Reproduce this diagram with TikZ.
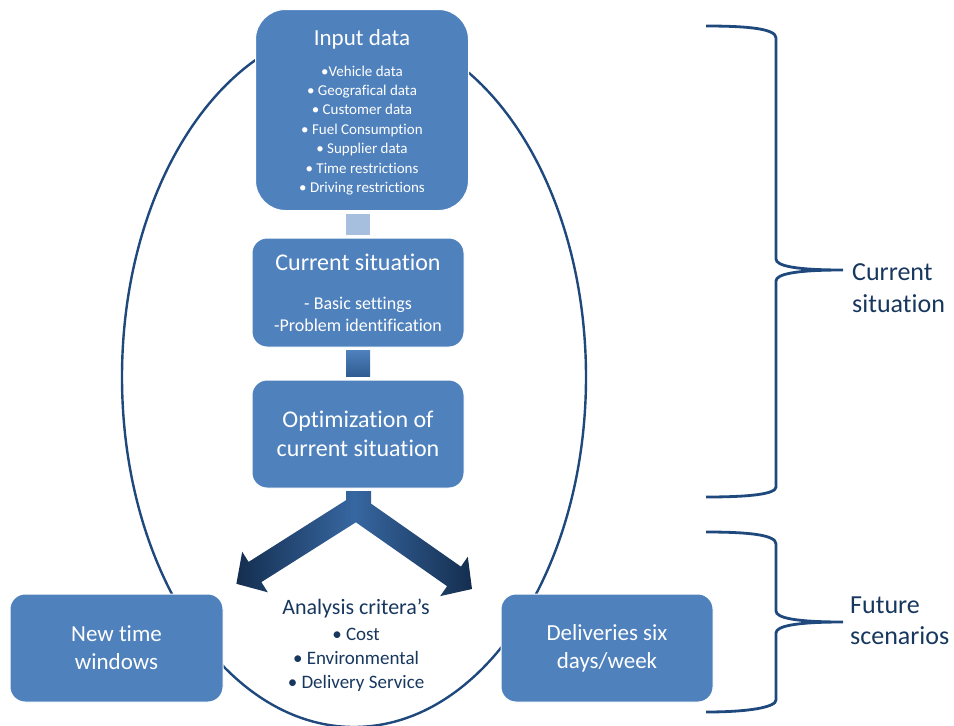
\documentclass[tikz,border=0pt]{standalone}
\usepackage{fontspec}
\setmainfont{Carlito}[RawFeature=-liga]
\usepackage{tikz}
\usetikzlibrary{calc}
\definecolor{BoxBlue}{HTML}{4F81BD}
\definecolor{RingBlue}{HTML}{1F497D}
\definecolor{TextNavy}{HTML}{17375E}
\definecolor{LinkPale}{HTML}{A7BFDE}
\definecolor{StemDark}{HTML}{2F5B91}
\definecolor{ArrowDark}{HTML}{142E4F}
\definecolor{ArrowMid}{HTML}{3767A1}
\begin{document}
\begin{tikzpicture}[x=1pt,y=-1pt]
\tikzset{stage/.style={fill=BoxBlue,draw=white,line width=1pt,rounded corners=15pt,text=white,align=center,minimum width=212pt,minimum height=108pt,inner sep=2pt,font=\fontsize{24}{29}\selectfont},
ring/.style={RingBlue,line width=2.4pt},brace/.style={RingBlue,line width=2.8pt},
link/.style={LinkPale,line width=24pt,shorten <=3pt,shorten >=3pt},
crit/.style={text=TextNavy,align=center,inner sep=0pt,font=\fontsize{19}{24}\selectfont},
side/.style={text=TextNavy,align=left,anchor=west,inner sep=0pt}}
\useasboundingbox (0,0) rectangle (954,726);
\draw[ring] (354,377) ellipse [x radius=232,y radius=350];
% right braces
\draw[brace] (706,26) .. controls (750,26) and (776,29) .. (776,38) -- (776,259) .. controls (776,266) and (796,270) .. (843,270) .. controls (796,270) and (776,274) .. (776,281) -- (776,487) .. controls (776,494) and (750,497) .. (706,497);
\draw[brace] (706,532) .. controls (750,532) and (776,535) .. (776,544) -- (776,611) .. controls (776,618) and (796,622) .. (843,622) .. controls (796,622) and (776,626) .. (776,633) -- (776,700) .. controls (776,707) and (750,712) .. (706,712);
\node[side,font=\fontsize{26}{32}\selectfont] (curlab) at (852,288) {Current\\situation};
\node[side,font=\fontsize{26}{31}\selectfont] (futlab) at (850,621) {Future\\scenarios};
% stages
\node[stage,rounded corners=30pt,minimum width=213pt,minimum height=201pt,font=\fontsize{15}{19.4}\selectfont] (input) at (362,110) {{\fontsize{23}{23}\selectfont\rule{0pt}{20pt}Input data}\\[11.6pt] •Vehicle data\\ • Geografical data\\ • Customer data\\ • Fuel Consumption\\ • Supplier data\\ • Time restrictions\\ • Driving restrictions};
\node[stage,minimum height=109pt,font=\fontsize{18}{22}\selectfont] (cur) at (358,292.5) {{\fontsize{24}{24}\selectfont Current situation}\\[17pt] - Basic settings\\ -Problem identification};
\node[stage] (opt) at (358,434) {Optimization of\\current situation};
\node[stage,minimum width=213pt,font=\fontsize{23}{28}\selectfont] (ntw) at (116.5,648) {New time\\windows};
\node[stage,font=\fontsize{23}{28}\selectfont] (six) at (607,648) {Deliveries six\\days/week};
\node[crit] (analysis) at (356,645) {{\fontsize{22}{22}\selectfont Analysis critera’s}\\[2pt] • Cost\\ • Environmental\\ • Delivery Service};
% links between stages
\draw[link] (cur.north |- input.south) -- (cur.north);
\shade[top color=BoxBlue,bottom color=StemDark] ($(cur.south)+(-12,3)$) rectangle ($(opt.north)+(12,-3)$);
% split arrow
\shade[left color=ArrowDark,right color=ArrowDark,middle color=ArrowMid] (346,491) -- (346,500.2) -- (248.6,561.9) -- (242.2,551.7) -- (236.4,583.8) -- (267.8,592.3) -- (261.4,582.1) -- (355.9,522.3) -- (447.1,586.2) -- (440.2,596.1) -- (472,589) -- (467.8,556.7) -- (460.9,566.6) -- (371,503.6) -- (371,491) -- cycle;
\end{tikzpicture}
\end{document}
